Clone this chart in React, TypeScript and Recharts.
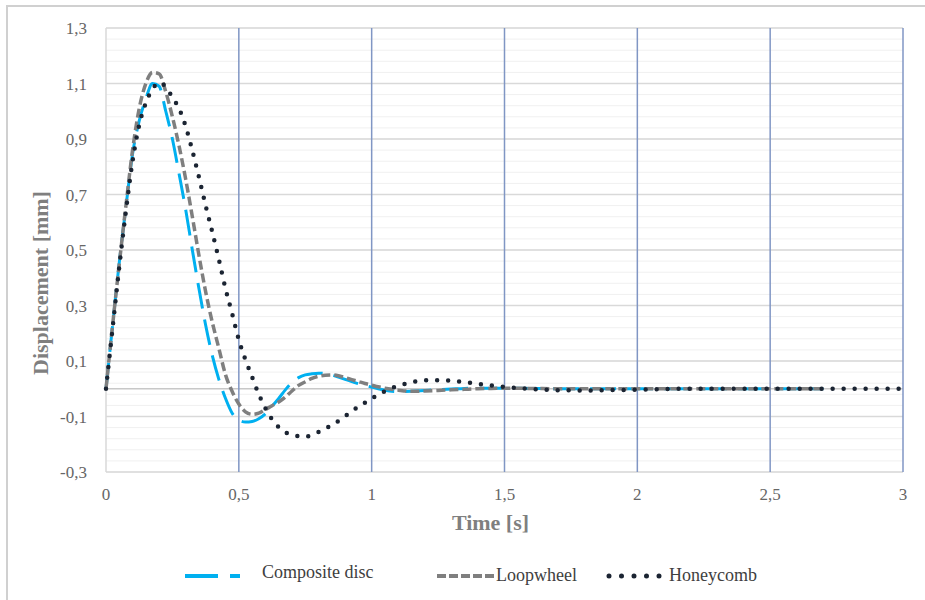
import React from 'react';
import { LineChart, Line, XAxis, YAxis, ReferenceLine, Legend } from 'recharts';

const timeS = [0,0.025,0.05,0.075,0.1,0.125,0.15,0.175,0.2,0.225,0.25,0.275,0.3,0.325,0.35,0.375,0.4,0.425,0.45,0.475,0.5,0.525,0.55,0.575,0.6,0.625,0.65,0.675,0.7,0.725,0.75,0.775,0.8,0.825,0.85,0.875,0.9,0.925,0.95,0.975,1.0,1.025,1.05,1.075,1.1,1.15,1.2,1.25,1.3,1.35,1.4,1.45,1.5,1.6,1.7,1.8,1.9,2.0,2.1,2.2,2.3,2.4,2.5,2.6,2.7,2.8,2.9,3.0];

const compositeDisc: (number | null)[] = [0,0.23,0.455,0.655,0.846,0.965,1.045,1.1,1.09,1.0,0.9,0.775,0.645,0.5,0.36,0.23,0.12,0.033,-0.035,-0.088,-0.113,-0.12,-0.118,-0.108,-0.09,-0.063,-0.035,-0.004,0.022,0.04,0.05,0.054,0.056,0.055,0.05,0.042,0.034,0.026,0.018,0.012,0.006,0,-0.005,-0.009,-0.01,
  -0.009,-0.006,-0.003,-0.001,0.001,0.002,0.002,0.002,
  0.001,0,0,0,0,0,0,0,0,0,0,0,null,null,null];

const loopwheel: (number | null)[] = [0,0.23,0.45,0.66,0.86,1.01,1.1,1.14,1.135,1.07,0.98,0.875,0.755,0.62,0.48,0.35,0.24,0.145,0.05,-0.01,-0.055,-0.083,-0.092,-0.088,-0.075,-0.061,-0.048,-0.03,-0.008,0.012,0.025,0.037,0.045,0.049,0.05,0.047,0.04,0.033,0.026,0.019,0.013,0.007,0.002,-0.002,-0.005,
  -0.009,-0.008,-0.006,-0.004,-0.002,0,0.001,0.002,
  0.001,0,0,0,0,0,0,0,0,0,0,0,null,null,null];

const honeycomb: (number | null)[] = [0,0.22,0.44,0.64,0.82,0.95,1.03,1.08,1.103,1.088,1.05,1.01,0.945,0.858,0.762,0.66,0.565,0.465,0.36,0.27,0.176,0.104,0.042,-0.02,-0.07,-0.11,-0.138,-0.157,-0.165,-0.171,-0.172,-0.167,-0.156,-0.144,-0.131,-0.116,-0.099,-0.082,-0.064,-0.05,-0.036,-0.02,-0.009,0.002,0.01,
  0.023,0.03,0.031,0.029,0.024,0.018,0.012,0.007,
  -0.001,-0.005,-0.006,-0.005,-0.003,-0.001,0,0,0,0,0,0,0,0,0];

const xTicks = [0, 0.5, 1, 1.5, 2, 2.5, 3];
const yTicks = [-0.3, -0.1, 0.1, 0.3, 0.5, 0.7, 0.9, 1.1, 1.3];
const verticalGrid = [0.5, 1, 1.5, 2, 2.5, 3];

const data = timeS.map((t, i) => ({
  t,
  composite: compositeDisc[i],
  loop: loopwheel[i],
  honey: honeycomb[i],
}));

// minor horizontal grid every 0.04 between -0.3 and 1.3
const minorGrid: number[] = [];
for (let k = 0; k <= 40; k++) {
  const v = Math.round((-0.3 + k * 0.04) * 1000) / 1000;
  minorGrid.push(v);
}

const FONT = '"Liberation Serif", "Times New Roman", serif';
const fmt = (v: number) => String(Math.round(v * 10) / 10).replace('.', ',');

const LegendContent = () => (
  <svg width={925} height={40} style={{ fontFamily: FONT }}>
    <line x1={185} y1={21} x2={240} y2={21} stroke="#00b0f0" strokeWidth={4} strokeDasharray="33 12" />
    <text x={262} y={17} fontSize={18} fill="#404040" dominantBaseline="central">Composite disc</text>
    <line x1={437} y1={21} x2={495} y2={21} stroke="#7f7f7f" strokeWidth={4} strokeDasharray="9 3" />
    <text x={496} y={20} fontSize={18} fill="#404040" dominantBaseline="central">Loopwheel</text>
    <line x1={609} y1={21} x2={660} y2={21} stroke="#1b2432" strokeWidth={5} strokeDasharray="0 12.5" strokeLinecap="round" />
    <text x={669} y={20} fontSize={18} fill="#404040" dominantBaseline="central">Honeycomb</text>
  </svg>
);

const YLabel = (props: any) => {
  const vb = props.viewBox || { x: 0, y: 28, width: 106, height: 444 };
  const cx = vb.x + 40;
  const cy = vb.y + vb.height / 2 + 33;
  return (
    <text x={cx} y={cy} transform={`rotate(-90, ${cx}, ${cy})`} textAnchor="middle" dominantBaseline="central"
      fontFamily={FONT} fontSize={22} fontWeight="bold" fill="#7f7f7f">Displacement [mm]</text>
  );
};

const XLabel = (props: any) => {
  const vb = props.viewBox || { x: 106, y: 472, width: 797, height: 40 };
  const cx = vb.x + vb.width / 2 - 14;
  const cy = vb.y + 50;
  return (
    <text x={cx} y={cy} textAnchor="middle" dominantBaseline="central"
      fontFamily={FONT} fontSize={22} fontWeight="bold" fill="#7f7f7f">Time [s]</text>
  );
};

export default function App() {
  return (
    <div style={{ position: 'absolute', left: 0, top: 0, width: 925, height: 600, background: '#fff' }}>
      <div style={{ position: 'absolute', left: 6, top: 5, width: 930, height: 600, borderTop: '2px solid #d0d0d0', borderLeft: '2px solid #d0d0d0' }} />
      <div style={{ position: 'absolute', left: 0, top: 0 }}>
        <LineChart width={925} height={600} data={data} margin={{ top: 28, right: 22, bottom: 88, left: 0 }}>
          {minorGrid.map((v) => (
            <ReferenceLine key={'m' + v} y={v} stroke="#f0f0f0" strokeWidth={1} />
          ))}
          {yTicks.map((v) => (
            <ReferenceLine key={'M' + v} y={v} stroke="#d9d9d9" strokeWidth={1.5} />
          ))}
          <ReferenceLine y={0} stroke="#c8c8c8" strokeWidth={1.5} />
          <ReferenceLine x={0} stroke="#d9d9d9" strokeWidth={1.5} />
          {verticalGrid.map((v) => (
            <ReferenceLine key={'v' + v} x={v} stroke="#8096c4" strokeWidth={1.5} />
          ))}
          <XAxis dataKey="t" type="number" domain={[0, 3]} ticks={xTicks} tickFormatter={fmt}
            axisLine={false} tickLine={false} tickSize={0} tickMargin={16} height={40}
            tick={{ fill: '#666', fontSize: 17, fontFamily: FONT }} interval={0}
            label={<XLabel />} />
          <YAxis type="number" domain={[-0.3, 1.3]} ticks={yTicks} tickFormatter={fmt}
            axisLine={false} tickLine={false} tickSize={0} tickMargin={19} width={106}
            tick={{ fill: '#666', fontSize: 17, fontFamily: FONT }} interval={0} allowDataOverflow
            label={<YLabel />} />
          <Line type="monotone" dataKey="composite" stroke="#00b0f0" strokeWidth={3} strokeDasharray="26 11"
            dot={false} isAnimationActive={false} connectNulls={false} />
          <Line type="monotone" dataKey="loop" stroke="#7f7f7f" strokeWidth={3.5} strokeDasharray="9 4"
            dot={false} isAnimationActive={false} connectNulls={false} />
          <Line type="monotone" dataKey="honey" stroke="#1b2432" strokeWidth={4.5} strokeDasharray="0 11" strokeLinecap="round"
            dot={false} isAnimationActive={false} />
          <Legend layout="horizontal" verticalAlign="middle" align="center" content={<LegendContent />}
            wrapperStyle={{ left: 0, top: 555, width: 925, height: 40 }} />
        </LineChart>
      </div>
    </div>
  );
}
